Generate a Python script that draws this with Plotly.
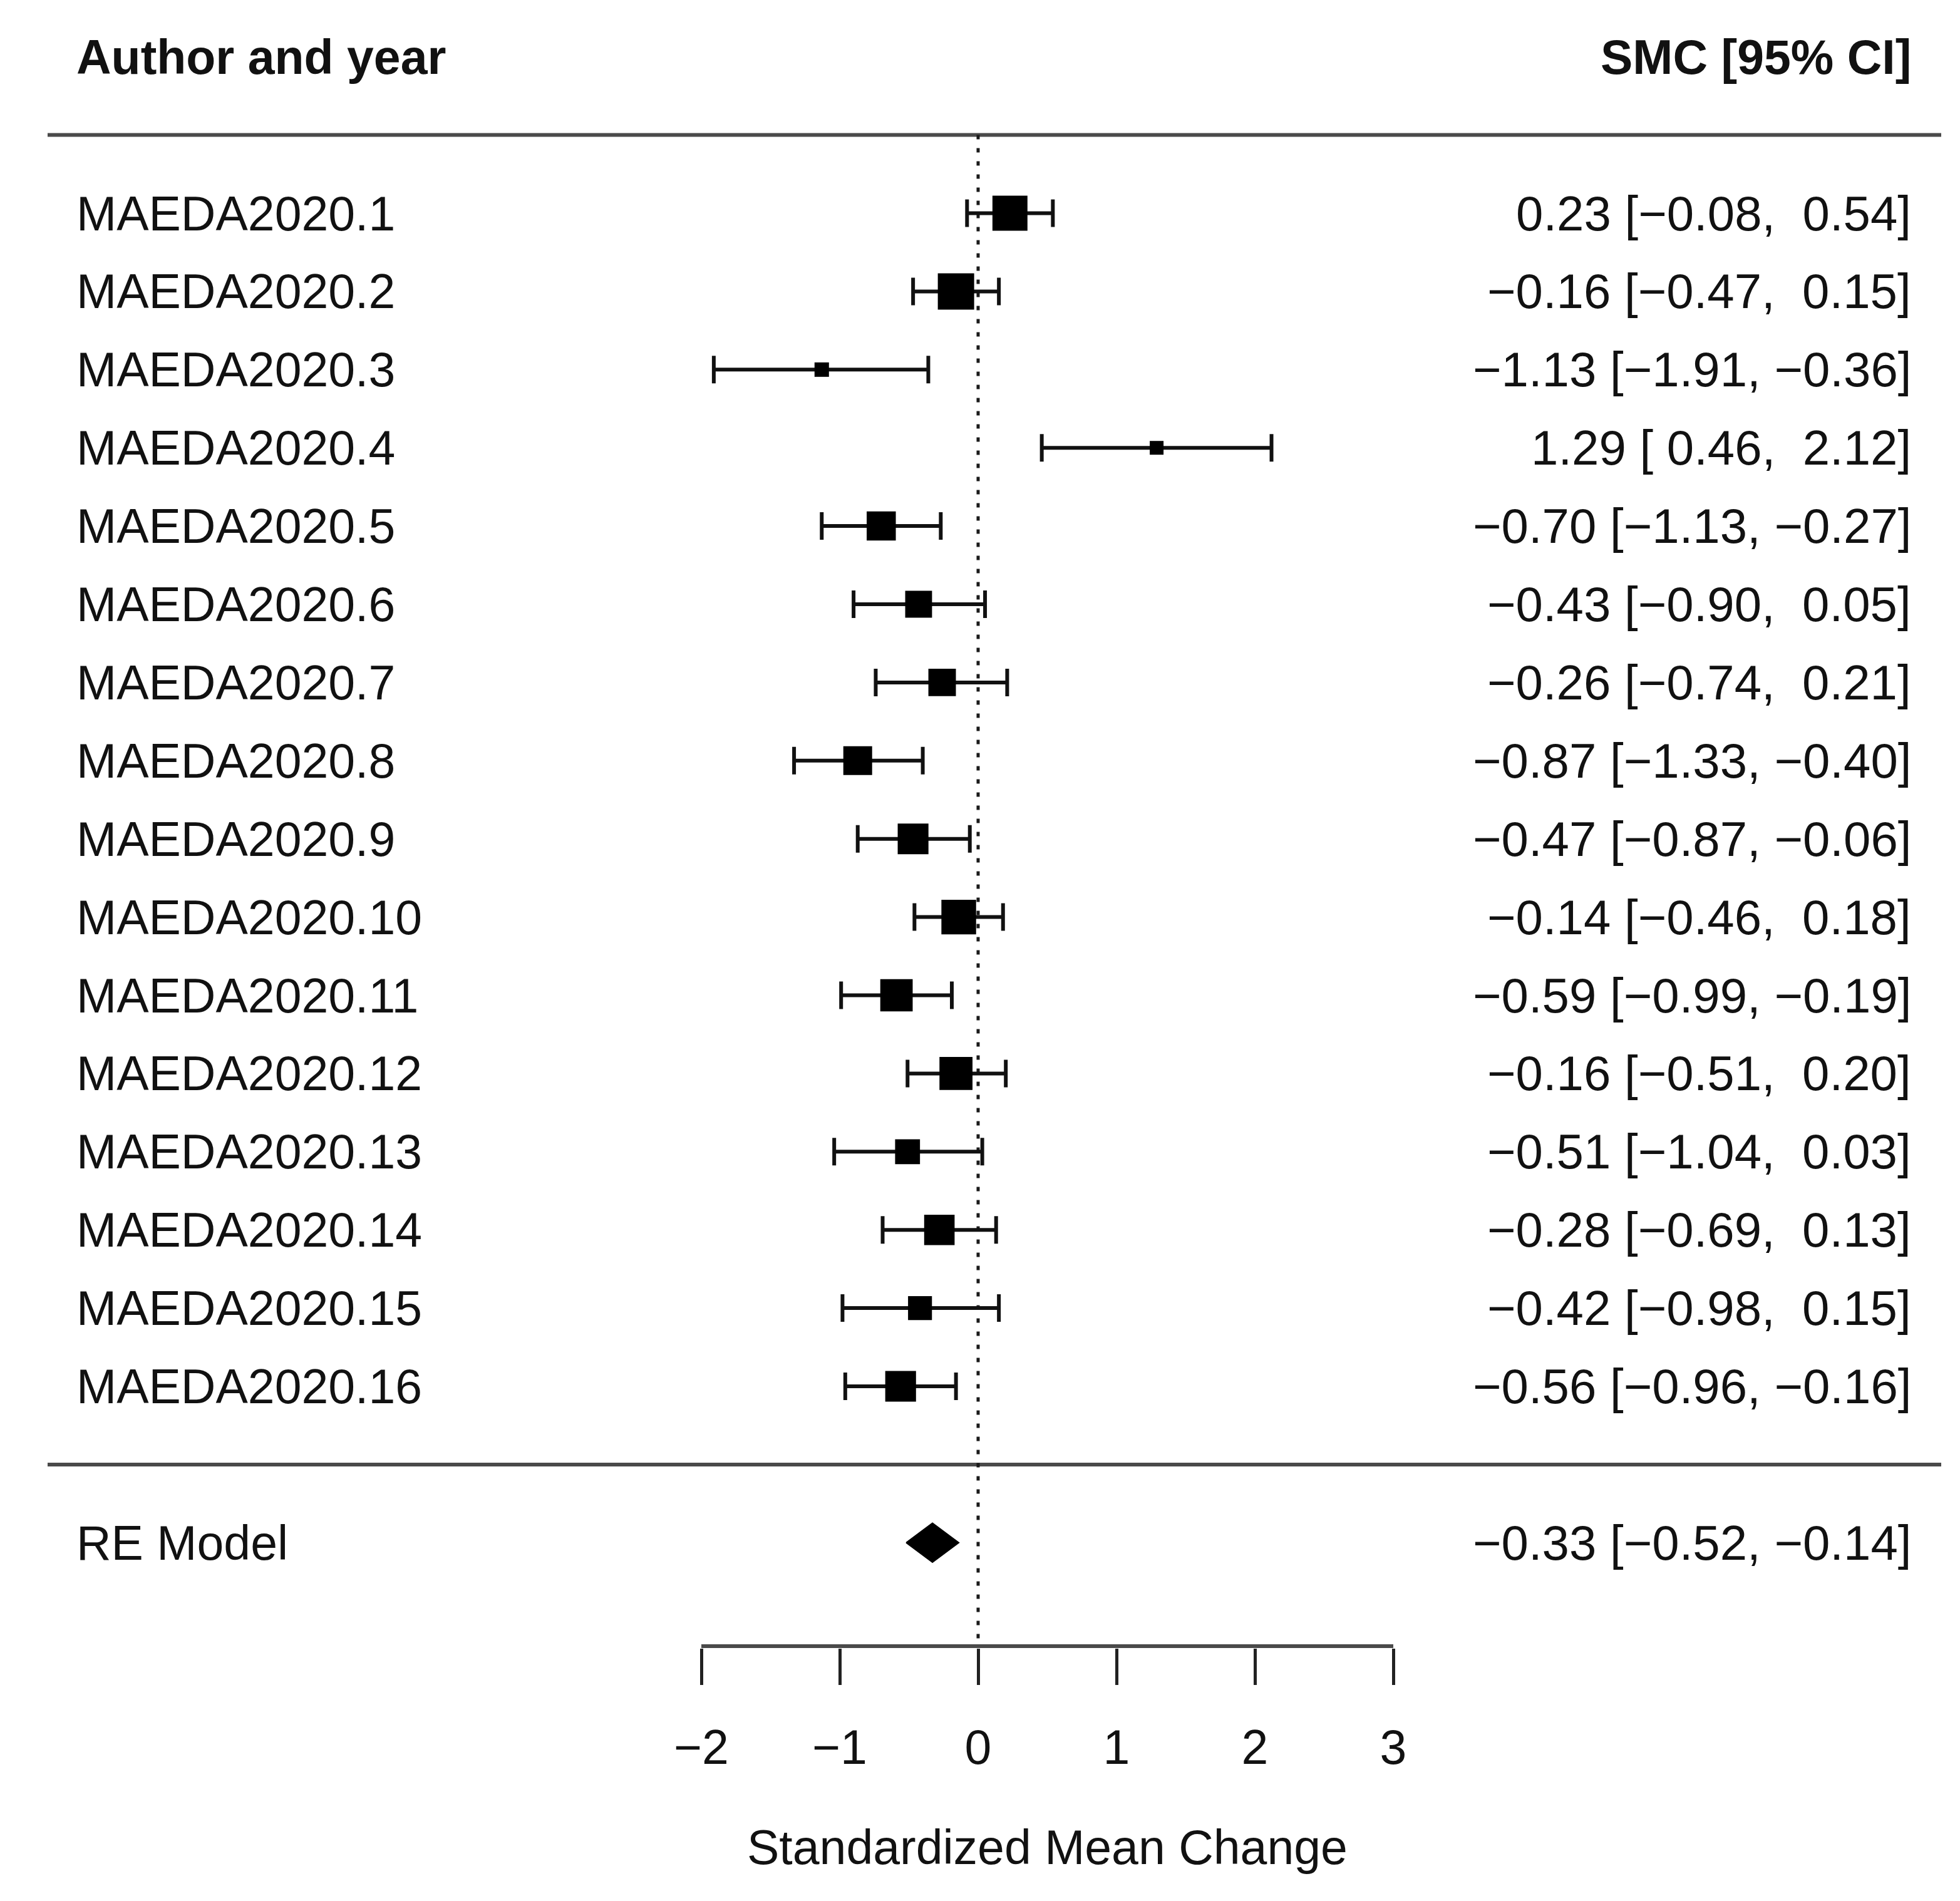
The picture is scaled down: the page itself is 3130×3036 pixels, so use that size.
import plotly.graph_objects as go

# ---------------- data ----------------
studies = [
    "MAEDA2020.1", "MAEDA2020.2", "MAEDA2020.3", "MAEDA2020.4",
    "MAEDA2020.5", "MAEDA2020.6", "MAEDA2020.7", "MAEDA2020.8",
    "MAEDA2020.9", "MAEDA2020.10", "MAEDA2020.11", "MAEDA2020.12",
    "MAEDA2020.13", "MAEDA2020.14", "MAEDA2020.15", "MAEDA2020.16",
]
estimates = [0.23, -0.16, -1.13, 1.29, -0.70, -0.43, -0.26, -0.87,
             -0.47, -0.14, -0.59, -0.16, -0.51, -0.28, -0.42, -0.56]
ci_lower = [-0.08, -0.47, -1.91, 0.46, -1.13, -0.90, -0.74, -1.33,
            -0.87, -0.46, -0.99, -0.51, -1.04, -0.69, -0.98, -0.96]
ci_upper = [0.54, 0.15, -0.36, 2.12, -0.27, 0.05, 0.21, -0.40,
            -0.06, 0.18, -0.19, 0.20, 0.03, 0.13, 0.15, -0.16]
# approximate study weights (%), read from the square sizes
weights = [8.3, 8.7, 2.0, 1.8, 6.5, 5.8, 6.0, 6.4,
           7.0, 8.2, 7.5, 7.7, 5.2, 6.9, 4.9, 7.0]

re_label = "RE Model"
re_estimate = -0.33
re_lower = -0.52
re_upper = -0.14

x_ticks = [-2, -1, 0, 1, 2, 3]
header_left = "Author and year"
header_right = "SMC [95% CI]"
x_title = "Standardized Mean Change"

# ---------------- layout constants ----------------
W, H = 3130, 3036
OFF = 8                   # default page body margin of the html page
PX_PER_X = 221.0          # pixels per unit on x
PX_X_AT_M2 = 1120.0 - OFF # figure pixel of x = -2
PX_PER_ROW = 124.9        # pixels per row
PX_ROW1 = 2214.0 - OFF    # figure pixel of y = 1 (last study)
AXIS_PX = 2629.0 - OFF
PLOT_BOTTOM_PX = AXIS_PX + 3
PLOT_H = PLOT_BOTTOM_PX


def px_to_x(px):
    return -2 + (px - OFF - PX_X_AT_M2) / PX_PER_X


def fig_px_to_y(py):
    return 1 + (PX_ROW1 - py) / PX_PER_ROW


x_range = [-2 - PX_X_AT_M2 / PX_PER_X, -2 + (W - PX_X_AT_M2) / PX_PER_X]
y_range = [fig_px_to_y(PLOT_BOTTOM_PX), fig_px_to_y(0)]
AXIS_Y = fig_px_to_y(AXIS_PX)

LINE_X0 = px_to_x(76)
LINE_X1 = px_to_x(3100)
LABEL_X = px_to_x(120)
RIGHT_X = px_to_x(3054)
TITLE_PAPER_Y = (PLOT_BOTTOM_PX - (2950 - OFF)) / PLOT_H

FONT = "Liberation Sans, Arial, Helvetica, sans-serif"
FS = 77
FS_RIGHT = 78
INK = "#111111"
MIN_PX, MAX_PX = 22.0, 58.0

k = len(studies)
rows = [k - i for i in range(k)]  # first study at top
RE_ROW = -1


def fmt(v):
    return f"{v:5.2f}".replace("-", "\u2212")


def ci_text(e, lo, hi):
    return f"{fmt(e).strip()} [{fmt(lo)}, {fmt(hi)}]".replace(" ", "\u00a0")


wmin, wmax = min(weights), max(weights)
sizes = [MIN_PX + (w - wmin) / (wmax - wmin) * (MAX_PX - MIN_PX) for w in weights]

fig = go.Figure()

# separator lines
for yline in [k + 1, 0]:
    fig.add_trace(go.Scatter(
        x=[LINE_X0, LINE_X1], y=[yline, yline], mode="lines",
        line=dict(color="#4a4a4a", width=6), hoverinfo="skip", showlegend=False))

# reference line at 0
fig.add_trace(go.Scatter(
    x=[0, 0], y=[k + 1, AXIS_Y], mode="lines",
    line=dict(color="#1a1a1a", width=5, dash="7px,14px"),
    hoverinfo="skip", showlegend=False))

# axis line (-2 .. 3)
fig.add_trace(go.Scatter(
    x=[min(x_ticks), max(x_ticks)], y=[AXIS_Y, AXIS_Y], mode="lines",
    line=dict(color="#4a4a4a", width=6), hoverinfo="skip", showlegend=False))

# study estimates with CIs
fig.add_trace(go.Scatter(
    x=estimates, y=rows, mode="markers",
    marker=dict(symbol="square", size=sizes, color="black", opacity=1,
                line=dict(width=0)),
    error_x=dict(type="data", symmetric=False,
                 array=[h - e for e, h in zip(estimates, ci_upper)],
                 arrayminus=[e - l for e, l in zip(estimates, ci_lower)],
                 color=INK, thickness=6, width=22),
    hoverinfo="skip", showlegend=False))

# summary diamond
DIAMOND_H = 0.25
fig.add_trace(go.Scatter(
    x=[re_lower, re_estimate, re_upper, re_estimate, re_lower],
    y=[RE_ROW, RE_ROW + DIAMOND_H, RE_ROW, RE_ROW - DIAMOND_H, RE_ROW],
    mode="lines", fill="toself", fillcolor="black",
    line=dict(color="black", width=2), hoverinfo="skip", showlegend=False))

annotations = []
annotations.append(dict(x=LABEL_X, y=k + 2, text=f"<b>{header_left}</b>",
                        xanchor="left", yanchor="middle", size=FS))
annotations.append(dict(x=RIGHT_X, y=k + 2, text=f"<b>{header_right}</b>",
                        xanchor="right", yanchor="middle", size=FS))
for name, r, e, lo, hi in zip(studies, rows, estimates, ci_lower, ci_upper):
    annotations.append(dict(x=LABEL_X, y=r, text=name, xanchor="left",
                            yanchor="middle", size=FS))
    annotations.append(dict(x=RIGHT_X, y=r, text=ci_text(e, lo, hi),
                            xanchor="right", yanchor="middle", size=FS_RIGHT))
annotations.append(dict(x=LABEL_X, y=RE_ROW, text=re_label, xanchor="left",
                        yanchor="middle", size=FS))
annotations.append(dict(x=RIGHT_X, y=RE_ROW, text=ci_text(re_estimate, re_lower, re_upper),
                        xanchor="right", yanchor="middle", size=FS_RIGHT))
for a in annotations:
    sz = a.pop("size")
    a.update(xref="x", yref="y", showarrow=False,
             font=dict(family=FONT, size=sz, color=INK))

# axis title, centred under the drawn axis (-2 .. 3)
annotations.append(dict(x=(min(x_ticks) + max(x_ticks)) / 2, xref="x",
                        y=TITLE_PAPER_Y, yref="paper", text=x_title,
                        xanchor="center", yanchor="middle", showarrow=False,
                        font=dict(family=FONT, size=FS, color=INK)))

fig.update_layout(
    width=W, height=H, autosize=False,
    margin=dict(l=0, r=0, t=0, b=H - PLOT_BOTTOM_PX, pad=0),
    paper_bgcolor="white", plot_bgcolor="white",
    font=dict(family=FONT, size=FS, color=INK),
    annotations=annotations,
    showlegend=False,
    xaxis=dict(range=x_range, tickmode="array", tickvals=x_ticks,
               ticktext=[str(t).replace("-", "\u2212") for t in x_ticks],
               ticks="outside", ticklen=58, tickwidth=4.5, tickcolor="#222222",
               showline=False, showgrid=False, zeroline=False,
               tickfont=dict(family=FONT, size=FS, color=INK),
               ticklabelstandoff=34,
               automargin=False, fixedrange=True),
    yaxis=dict(range=y_range, showticklabels=False, showgrid=False,
               zeroline=False, showline=False, ticks="", automargin=False,
               fixedrange=True),
)

fig.write_html("out.html")
